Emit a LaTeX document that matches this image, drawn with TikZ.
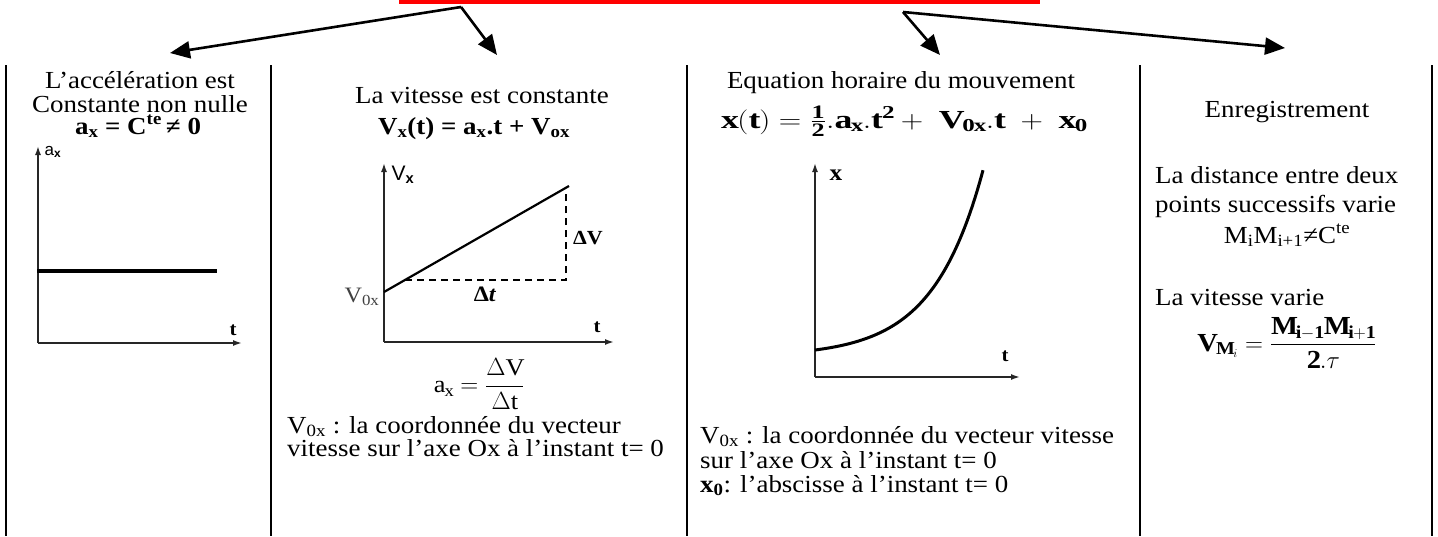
\documentclass[tikz,border=0pt]{standalone}
\usepackage{amsmath}
\usepackage{fontspec}
\setmainfont{Liberation Serif}[FakeStretch=1.1]
\newfontfamily\arialf{Liberation Sans}
\usetikzlibrary{arrows.meta}
\newcommand\mydig[1]{\mbox{\fontsize{19}{19}\selectfont\bfseries #1}}
\newcommand\myeqxt{\scalebox{1.25}[1]{$\mathbf{x}(\mathbf{t})=\frac{\mydig{1}}{\mydig{2}}.\mathbf{a}_{\mathbf{x}}.\mathbf{t}^{\mathbf{2}}+\;\mathbf{V}_{\mathbf{0x}}.\mathbf{t}\;+\;\mathbf{x}_{\mathbf{0}}$}}
\newcommand\myeqvm{$\mathbf{V}_{\mathbf{M}_{i}}=\dfrac{\mathbf{M}_{\mathbf{i-1}}\mathbf{M}_{\mathbf{i+1}}}{\mathbf{2}.\tau}$}
\newcommand\myeqax{$\mathrm{a}_{\mathrm{x}}=\dfrac{\Delta\mathrm{V}}{\Delta\mathrm{t}}$}
\begin{document}
\begin{tikzpicture}[x=1pt,y=-1pt,
  txt/.style={inner sep=0pt, font=\fontsize{24.5}{27}\selectfont},
  sepline/.style={line width=2.4pt},
  bigarrow/.style={line width=2.6pt, -{Triangle[length=20pt,width=17pt]}},
  axis/.style={line width=1.6pt, draw=black!85, -{Latex[length=9pt,width=6pt]}},
  curve/.style={line width=3pt},
  lbl/.style={inner sep=0pt, font=\fontsize{19}{19}\selectfont\bfseries},
]
\useasboundingbox (0,0) rectangle (1438,536);
% red bar
\fill[red] (399,0) rectangle (1040,3.5);
% arrows
\coordinate (cA) at (461,7);
\coordinate (cB) at (903,12);
\coordinate (tA1) at (170,53);
\coordinate (tA2) at (497,55);
\coordinate (tB1) at (940,55);
\coordinate (tB2) at (1285,48);
\draw[bigarrow] (cA) -- (tA1);
\draw[bigarrow] (cA) -- (tA2);
\draw[bigarrow] (cB) -- (tB1);
\draw[bigarrow] (cB) -- (tB2);
% column separators
\foreach \xx/\nm in {6/s0,271/s1,687/s2,1140/s3,1432/s4}{
  \coordinate (\nm t) at (\xx,65);
  \coordinate (\nm b) at (\xx,536);
  \draw[sepline] (\nm t) -- (\nm b);
}
% ---------- column 1
\node[txt, anchor=base] (c1a) at (140,88) {L’accélération est};
\node[txt, anchor=base] (c1b) at (140,112) {Constante non nulle};
\node[txt, anchor=base] (c1c) at (138,134) {\textbf{a\textsubscript{x} = C\textsuperscript{te}\,≠ 0}};
\coordinate (o1) at (38,343);
\coordinate (y1) at (38,146);
\coordinate (x1) at (242,343);
\draw[axis] (o1) -- (y1);
\draw[axis] (o1) -- (x1);
\coordinate (h0) at (37,271);
\coordinate (h1) at (217,271);
\draw[line width=3.2pt] (h0) -- (h1);
\node[inner sep=0pt, font=\fontsize{17}{17}\arialf] (l1) at (53,152) {a\textsubscript{\textbf{x}}};
\node[lbl] (t1) at (233,330) {t};
% ---------- column 2
\node[txt, anchor=base] (c2a) at (482,103) {La vitesse est constante};
\node[txt, anchor=base] (c2b) at (474,134) {\textbf{V\textsubscript{x}(t) = a\textsubscript{x}.t + V\textsubscript{ox}}};
\coordinate (o2) at (384,342);
\coordinate (y2) at (384,163);
\coordinate (x2) at (614,342);
\draw[axis] (o2) -- (y2);
\draw[axis] (o2) -- (x2);
\node[inner sep=0pt, font=\fontsize{21}{21}\arialf] (l2) at (403,175) {V\textsubscript{\textbf{x}}};
\coordinate (p0) at (384,292);
\coordinate (p1) at (569,186);
\draw[line width=2.2pt] (p0) -- (p1);
\coordinate (d0) at (405,280);
\coordinate (d1) at (566,280);
\coordinate (d2) at (566,192);
\draw[line width=1.4pt, dash pattern=on 7pt off 5pt] (d0) -- (d1) -- (d2);
\node[inner sep=0pt, font=\fontsize{20}{20}\selectfont\bfseries] (dV) at (588,238) {ΔV};
\node[inner sep=0pt, font=\fontsize{22}{22}\selectfont\bfseries] (dt) at (485,294) {Δ\textit{t}};
\node[inner sep=0pt, font=\fontsize{22}{22}\selectfont, text=black!75] (v0) at (362,297) {V\textsubscript{0x}};
\node[lbl] (t2) at (597,327) {t};
\node[inner sep=0pt, font=\fontsize{24}{28}\selectfont] (c2f) at (479,384) {\myeqax};
\node[txt, anchor=base west] (c2g) at (287,433) {V\textsubscript{0x} : la coordonnée du vecteur};
\node[txt, anchor=base west] (c2h) at (287,456) {vitesse sur l’axe Ox à l’instant t= 0};
% ---------- column 3
\node[txt, anchor=base] (c3a) at (901,88) {Equation horaire du mouvement};
\node[inner sep=0pt, anchor=base, font=\fontsize{26}{28}\selectfont] (c3b) at (904,128) {\myeqxt};
\coordinate (o3) at (815,377);
\coordinate (y3) at (815,163);
\coordinate (x3) at (1020,377);
\draw[axis] (o3) -- (y3);
\draw[axis] (o3) -- (x3);
\node[inner sep=0pt, font=\fontsize{23}{23}\selectfont\bfseries] (l3) at (836,175) {x};
\node[lbl] (t3) at (1005,356) {t};
\draw[curve] plot[domain=815:983, samples=80, smooth] (\x, {350-6.47*(exp((\x-815)/50)-1)});
\node[txt, anchor=base west] (c3c) at (700,443) {V\textsubscript{0x} : la coordonnée du vecteur vitesse};
\node[txt, anchor=base west] (c3d) at (700,468) {sur l’axe Ox à l’instant t= 0};
\node[txt, anchor=base west] (c3e) at (700,492) {\textbf{x\textsubscript{0}}: l’abscisse à l’instant t= 0};
% ---------- column 4
\node[txt, anchor=base] (c4a) at (1287,117) {Enregistrement};
\node[txt, anchor=base west] (c4b) at (1155,183) {La distance entre deux};
\node[txt, anchor=base west] (c4c) at (1155,212) {points successifs varie};
\node[txt, anchor=base] (c4d) at (1287,243) {M\textsubscript{i}M\textsubscript{i+1}≠C\textsuperscript{te}};
\node[txt, anchor=base west] (c4e) at (1155,305) {La vitesse varie};
\node[inner sep=0pt, anchor=base, font=\fontsize{26}{28}\selectfont] (c4f) at (1287,351) {\myeqvm};
\end{tikzpicture}
\end{document}
